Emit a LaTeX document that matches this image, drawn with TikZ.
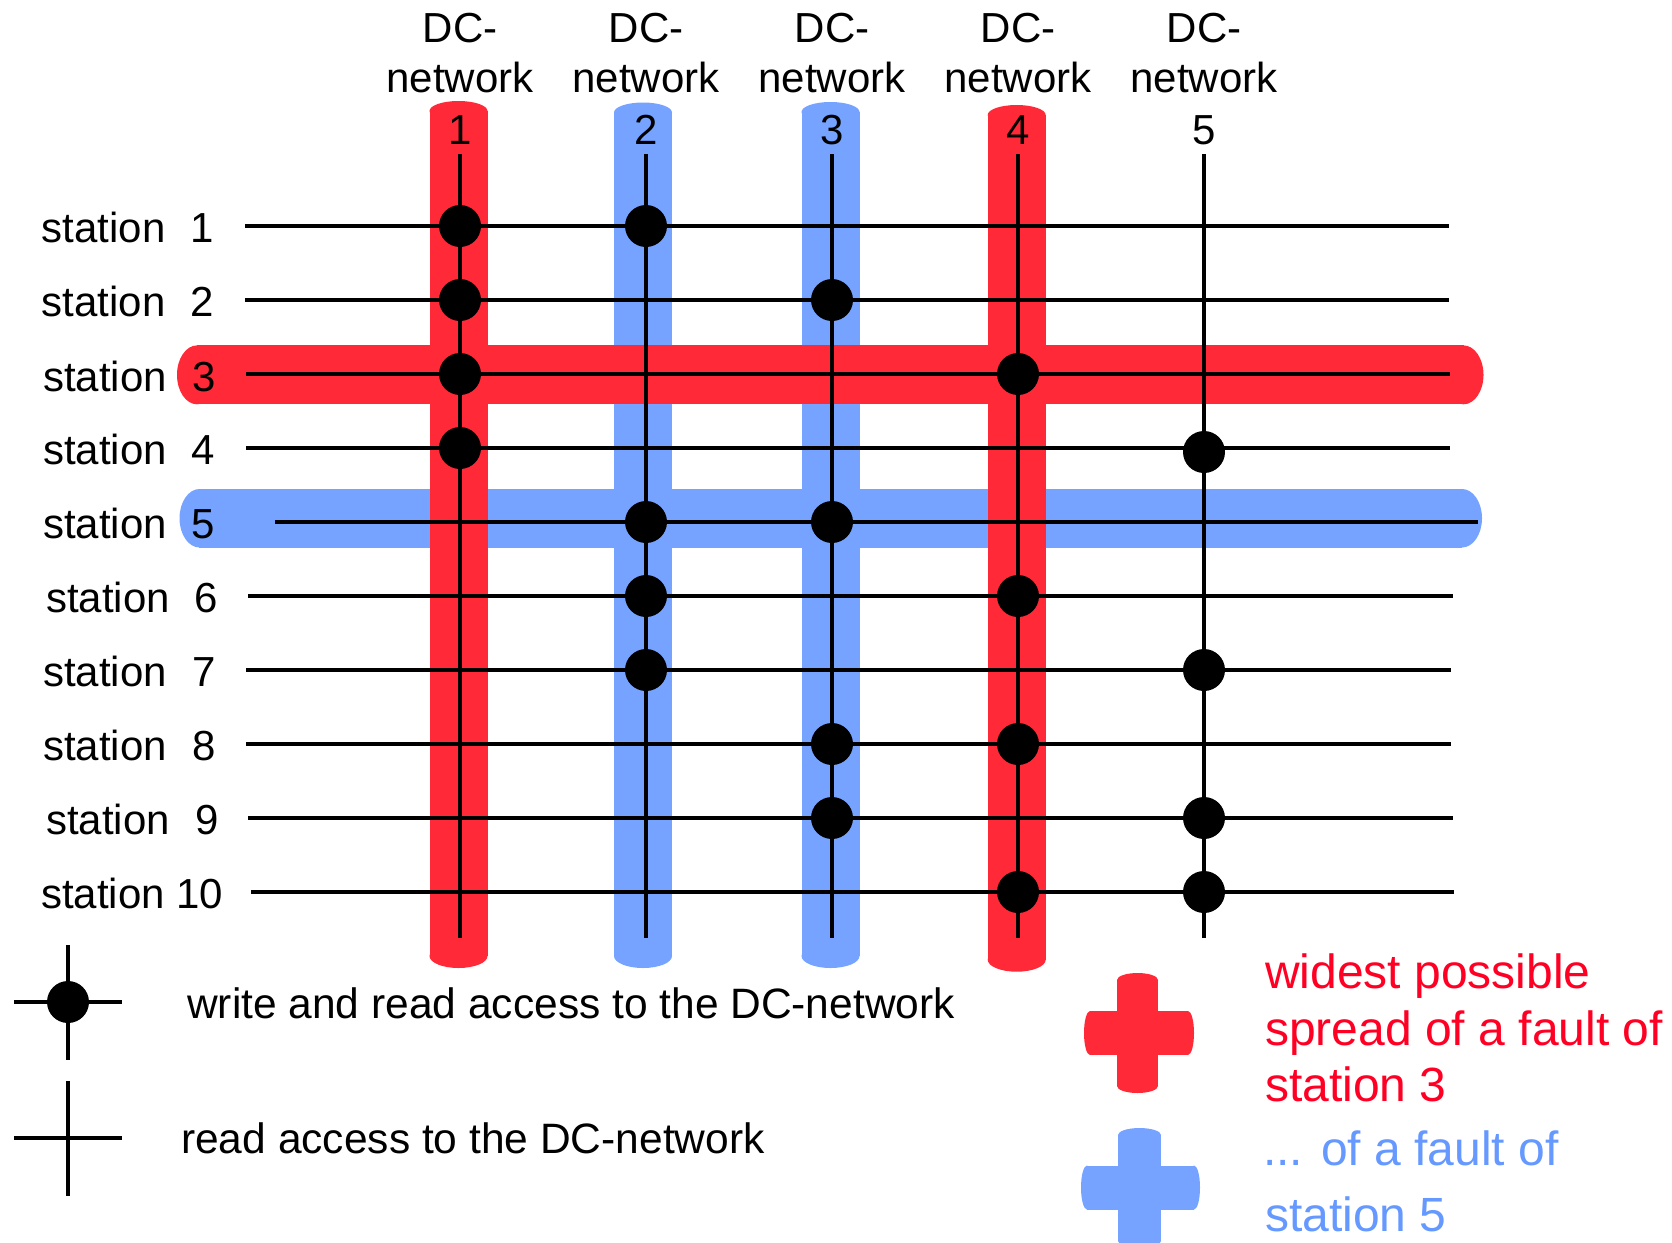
\documentclass[tikz,border=0pt]{standalone}
\usepackage{fontspec}
\setmainfont{Liberation Sans}
\definecolor{bandred}{RGB}{255,41,55}
\definecolor{bandblue}{RGB}{117,163,255}
\definecolor{txtred}{RGB}{255,0,36}
\definecolor{txtblue}{RGB}{102,153,255}
\begin{document}
\begin{tikzpicture}[x=1pt,y=-1pt,
  lbl/.style={font=\fontsize{42}{50}\selectfont, inner sep=0pt},
  leglbl/.style={font=\fontsize{42.5}{50}\selectfont, inner sep=0pt, anchor=base west},
  legred/.style={font=\fontsize{48}{56}\selectfont, inner sep=0pt, anchor=base west, text=txtred},
  legblue/.style={font=\fontsize{48}{56}\selectfont, inner sep=0pt, anchor=base west, text=txtblue},
  wire/.style={line width=3.3pt, black},
  legwire/.style={line width=4.5pt, black},
  dot/.style={circle, fill=black, inner sep=0pt, minimum size=42pt},
]
\useasboundingbox[fill=white] (0,0) rectangle (1672,1242);

% ---------- blue fault spread of station 5 ----------
% horizontal band
\fill[bandblue] (199,489) rectangle (1462,547.5);
\fill[bandblue] (199.5,518.25) ellipse[x radius=20pt, y radius=29.25pt];
\fill[bandblue] (1462,518.25) ellipse[x radius=20pt, y radius=29.25pt];
% vertical bands (networks 2 and 3)
\foreach \xc/\tp/\bt in {643/102.5/968, 830.5/102/968}{
  \fill[bandblue] (\xc-29,\tp+10) rectangle (\xc+29,\bt-12);
  \fill[bandblue] (\xc,\tp+10) ellipse[x radius=29pt, y radius=10pt];
  \fill[bandblue] (\xc,\bt-12) ellipse[x radius=29pt, y radius=12pt];
}

% ---------- red fault spread of station 3 ----------
\fill[bandred] (197,345.4) rectangle (1463.5,404.3);
\fill[bandred] (197,374.85) ellipse[x radius=20pt, y radius=29.45pt];
\fill[bandred] (1463.5,374.85) ellipse[x radius=20pt, y radius=29.45pt];
\foreach \xc/\tp/\bt in {458.5/101/968, 1016.7/105/971.7}{
  \fill[bandred] (\xc-29,\tp+10) rectangle (\xc+29,\bt-12);
  \fill[bandred] (\xc,\tp+10) ellipse[x radius=29pt, y radius=10pt];
  \fill[bandred] (\xc,\bt-12) ellipse[x radius=29pt, y radius=12pt];
}

% ---------- DC-networks (vertical lines) ----------
\foreach \i/\x in {1/460,2/646,3/832,4/1018,5/1204}{
  \coordinate (T\i) at (\x,154);
  \coordinate (B\i) at (\x,938);
  \draw[wire] (T\i) -- (B\i);
  \node[lbl, anchor=base] (hd\i) at (\x,42.3) {DC-};
  \node[lbl, anchor=base] (hn\i) at (\x,92.3) {network};
  \node[lbl, anchor=base] (hk\i) at (\x,144) {\i};
}

% ---------- stations (horizontal lines) ----------
\foreach \j/\y/\xs/\xe in {1/226/245/1449,2/300/245/1449,3/374/246/1450,4/448/246/1450,
  5/522/275/1478,6/596/248/1453,7/670/246/1451,8/744/246/1451,9/818/248/1453,10/892/251/1454}{
  \coordinate (L\j) at (\xs,\y);
  \coordinate (R\j) at (\xe,\y);
  \draw[wire] (L\j) -- (R\j);
}

% station labels
\foreach \j/\y/\xa/\xb in {1/242/41.5/190,2/316/41.5/190,3/391/43/192,4/464/43/191,
  5/538/43/191,6/612/46/194,7/686/43/192,8/760/43/192,9/834/46/195}{
  \node[lbl, anchor=base west] (st\j) at (\xa,\y) {station};
  \node[lbl, anchor=base west] (sn\j) at (\xb,\y) {\j};
}
\node[lbl, anchor=base west] (st10) at (41,908) {station 10};

% ---------- write and read accesses ----------
\foreach \j/\i in {1/1,1/2,2/1,2/3,3/1,3/4,4/1,5/2,5/3,6/2,6/4,7/2,7/5,8/3,8/4,9/3,9/5,10/4,10/5}{
  \node[dot] (d\j-\i) at (T\i |- L\j) {};
}
\node[dot] (d4-5) at (1204,452) {};

% ---------- legend (left) ----------
\coordinate (la1) at (68,945);  \coordinate (lb1) at (68,1060);
\coordinate (lc1) at (14,1002); \coordinate (ld1) at (122,1002);
\draw[legwire] (la1) -- (lb1);
\draw[legwire] (lc1) -- (ld1);
\node[dot] (ldot) at (68,1002) {};
\node[leglbl] (lt1) at (187,1018) {write and read access to the DC-network};

\coordinate (la2) at (68,1081); \coordinate (lb2) at (68,1196);
\coordinate (lc2) at (14,1138); \coordinate (ld2) at (122,1138);
\draw[legwire] (la2) -- (lb2);
\draw[legwire] (lc2) -- (ld2);
\node[leglbl] (lt2) at (181,1153) {read access to the DC-network};

% ---------- legend (right) ----------
% red cross
\fill[bandred] (1117,980) rectangle (1158,1086);
\fill[bandred] (1137.5,980) ellipse[x radius=20.5pt, y radius=7pt];
\fill[bandred] (1137.5,1086) ellipse[x radius=20.5pt, y radius=7pt];
\fill[bandred] (1090,1011) rectangle (1188,1055);
\fill[bandred] (1090,1033) ellipse[x radius=6pt, y radius=22pt];
\fill[bandred] (1188,1033) ellipse[x radius=6pt, y radius=22pt];
% blue cross
\fill[bandblue] (1118,1135) rectangle (1161,1241);
\fill[bandblue] (1139.5,1135) ellipse[x radius=21.5pt, y radius=7pt];
\fill[bandblue] (1139.5,1241) ellipse[x radius=21.5pt, y radius=7pt];
\fill[bandblue] (1087,1165.5) rectangle (1194,1209.5);
\fill[bandblue] (1087,1187.5) ellipse[x radius=6pt, y radius=22pt];
\fill[bandblue] (1194,1187.5) ellipse[x radius=6pt, y radius=22pt];

\node[legred] (lr1) at (1265,988.3) {widest possible};
\node[legred] (lr2) at (1265,1045) {spread of a fault of};
\node[legred] (lr3) at (1265,1101.7) {station 3};
\node[legblue] (lb1t) at (1263,1165) {... of a fault of};
\node[legblue] (lb2t) at (1265,1231.7) {station 5};
\end{tikzpicture}
\end{document}
